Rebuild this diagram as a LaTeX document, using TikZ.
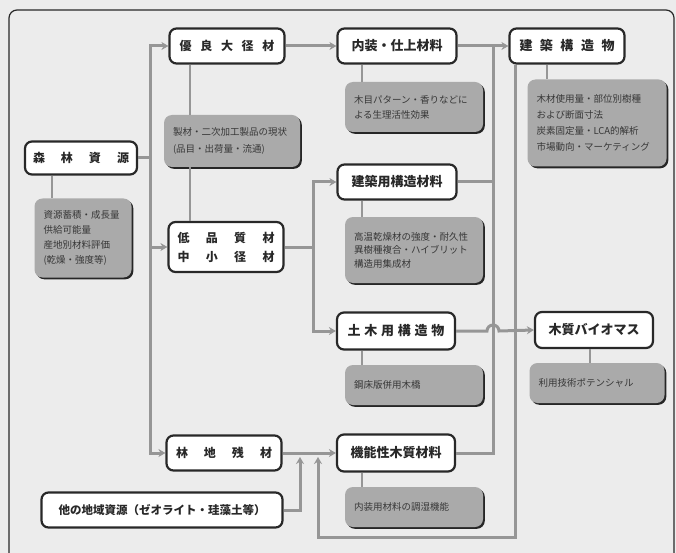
\documentclass[tikz,border=0pt]{standalone}
\usepackage{fontspec}
\newfontfamily\jp{Noto Sans CJK JP}
\usetikzlibrary{arrows.meta,shadows}
\definecolor{bg}{RGB}{236,236,236}
\definecolor{boxg}{RGB}{170,170,170}
\definecolor{lineg}{RGB}{150,150,150}
\definecolor{dark}{RGB}{40,40,40}
\definecolor{gtext}{RGB}{55,55,55}
\tikzset{
  mainbox/.style={draw=dark, line width=2.2pt, rounded corners=7pt, fill=white,
    font=\jp\bfseries\fontsize{12}{19}\selectfont, inner sep=0pt, align=center, text=dark},
  gbox/.style={fill=boxg, rounded corners=8pt, inner xsep=9pt, inner ysep=0pt, align=left,
    font=\jp\fontsize{9.5}{15}\selectfont, text=gtext,
    drop shadow={shadow xshift=1.8pt, shadow yshift=-1.8pt, fill=black!85, opacity=1}},
  conn/.style={draw=lineg, line width=3pt},
  arr/.style={-{Stealth[length=7pt,width=8pt]}},
  tline/.style={draw=lineg, line width=1.5pt}
}
\begin{document}
\begin{tikzpicture}[x=1pt,y=-1pt]
\useasboundingbox (0,0) rectangle (676,553);
\fill[bg] (0,0) rectangle (676,553);
\draw[dark, line width=1.2pt, rounded corners=8pt] (9,570) -- (9,10) -- (674,10) -- (674,570);

% left column
\node[mainbox, minimum width=112pt, minimum height=33pt] (shinrin) at (81,158)
  {\makebox[96pt][s]{森\hfill 林\hfill 資\hfill 源}};
\node[gbox, text width=79pt, minimum height=79pt] (shinring) at (83,238)
  {資源蓄積・成長量\\供給可能量\\産地別材料評価\\(乾燥・強度等)};

% second column
\node[mainbox, minimum width=115pt, minimum height=35pt] (yuryo) at (227,46)
  {\makebox[95pt][s]{優\hfill 良\hfill 大\hfill 径\hfill 材}};
\node[gbox, text width=118pt, minimum height=52pt, font=\jp\fontsize{9.5}{17}\selectfont] (seizai) at (232,141)
  {製材・二次加工製品の現状\\(品目・出荷量・流通)};
\node[mainbox, minimum width=115pt, minimum height=50pt] (tei) at (226,247)
  {\makebox[97pt][s]{低\hfill 品\hfill 質\hfill 材}\\\makebox[97pt][s]{中\hfill 小\hfill 径\hfill 材}};
\node[mainbox, minimum width=115pt, minimum height=35pt] (rinchi) at (224,453)
  {\makebox[96pt][s]{林\hfill 地\hfill 残\hfill 材}};
\node[mainbox, minimum width=241pt, minimum height=35pt, font=\jp\bfseries\fontsize{11.5}{14}\selectfont] (hoka) at (162,510)
  {他の地域資源（ゼオライト・珪藻土等）};

% third column
\node[mainbox, minimum width=119pt, minimum height=35pt, font=\jp\bfseries\fontsize{13}{15}\selectfont] (naiso) at (397,46)
  {内装・仕上材料};
\node[gbox, text width=120pt, minimum height=50pt] (naisog) at (414,107)
  {木目パターン・香りなどに\\よる生理活性効果};
\node[mainbox, minimum width=119pt, minimum height=35pt, font=\jp\bfseries\fontsize{13}{15}\selectfont] (kenzai) at (397,182)
  {建築用構造材料};
\node[gbox, text width=120pt, minimum height=66pt, font=\jp\fontsize{9.5}{13.5}\selectfont] (kenzaig) at (414,250)
  {高温乾燥材の強度・耐久性\\異樹種複合・ハイブリット\\構造用集成材};
\node[mainbox, minimum width=118pt, minimum height=37pt, font=\jp\bfseries\fontsize{13}{15}\selectfont] (doboku) at (396,331)
  {\makebox[97pt][s]{土\hfill 木\hfill 用\hfill 構\hfill 造\hfill 物}};
\node[gbox, text width=120pt, minimum height=40pt] (dobokug) at (414,385)
  {鋼床版併用木橋};
\node[mainbox, minimum width=118pt, minimum height=37pt, font=\jp\bfseries\fontsize{13}{15}\selectfont] (kino) at (396,453)
  {機能性木質材料};
\node[gbox, text width=120pt, minimum height=40pt] (kinog) at (414,507)
  {内装用材料の調湿機能};

% fourth column
\node[mainbox, minimum width=115pt, minimum height=35pt, font=\jp\bfseries\fontsize{13}{15}\selectfont] (kenchiku) at (567,46)
  {\makebox[95pt][s]{建\hfill 築\hfill 構\hfill 造\hfill 物}};
\node[gbox, text width=121pt, minimum height=87pt, font=\jp\fontsize{9.5}{16}\selectfont] (kenchikug) at (597,123)
  {木材使用量・部位別樹種\\および断面寸法\\炭素固定量・LCA的解析\\市場動向・マーケティング};
\node[mainbox, minimum width=118pt, minimum height=36pt, font=\jp\bfseries\fontsize{13}{15}\selectfont] (bio) at (594,330)
  {木質バイオマス};
\node[gbox, text width=117pt, minimum height=40pt] (biog) at (597,383)
  {利用技術ポテンシャル};

% thin links node -> gray box
\draw[tline] ([xshift=-29pt]shinrin.south) -- ([xshift=-29pt]shinrin.south |- shinring.north);
\draw[tline] ([xshift=-37pt]yuryo.south) -- ([xshift=-37pt]yuryo.south |- seizai.north);
\draw[tline] ([xshift=-37pt]yuryo.south |- seizai.south) -- ([xshift=-37pt]yuryo.south |- tei.north);
\draw[tline] ([xshift=-35pt]naiso.south) -- ([xshift=-35pt]naiso.south |- naisog.north);
\draw[tline] ([xshift=-35pt]kenzai.south) -- ([xshift=-35pt]kenzai.south |- kenzaig.north);
\draw[tline] ([xshift=-34pt]doboku.south) -- ([xshift=-34pt]doboku.south |- dobokug.north);
\draw[tline] ([xshift=-34pt]kino.south) -- ([xshift=-34pt]kino.south |- kinog.north);
\draw[tline] ([xshift=-20pt]kenchiku.south) -- ([xshift=-20pt]kenchiku.south |- kenchikug.north);
\draw[tline] ([xshift=-4pt]bio.south) -- ([xshift=-4pt]bio.south |- biog.north);

% bus coordinates
\coordinate (b1) at (150,0);
\coordinate (b2) at (313,0);
\coordinate (b3) at (493,0);
\coordinate (b4) at (515,0);

% forest resources bus
\draw[conn] (shinrin.east) -- (b1 |- shinrin.east);
\draw[conn,arr] (b1 |- shinrin.east) |- (yuryo.west);
\draw[conn,arr] (b1 |- shinrin.east) |- (rinchi.west);
\draw[conn,arr] (b1 |- tei.west) -- (tei.west);

% second column to third column
\draw[conn,arr] (yuryo.east) -- (naiso.west);
\draw[conn] (tei.east) -- (b2 |- tei.east);
\draw[conn,arr] (b2 |- tei.east) |- (kenzai.west);
\draw[conn,arr] (b2 |- tei.east) |- (doboku.west);
\draw[conn,arr] (rinchi.east) -- (kino.west);

% other local resources
\coordinate (h1) at (300,510);
\draw[conn,arr] (hoka.east) -- (h1) -- (300,457);

% third column to fourth
\draw[conn,arr] (naiso.east) -- (kenchiku.west);
\draw[conn] (kenzai.east) -- (b3 |- kenzai.east);
\draw[conn] (kino.east) -- (b3 |- kino.east) -- (b3 |- naiso.east);
\draw[conn,arr] (doboku.east) -- ([xshift=-6pt]b3 |- doboku.east)
  arc[start angle=180, end angle=0, radius=6pt] -- (bio.west);

% feedback loop from building structures
\coordinate (f1) at (515,537);
\coordinate (f2) at (318,537);
\draw[conn,arr] (b4 |- kenchiku.south) -- (f1) -- (f2) -- (318,457);
\end{tikzpicture}
\end{document}
